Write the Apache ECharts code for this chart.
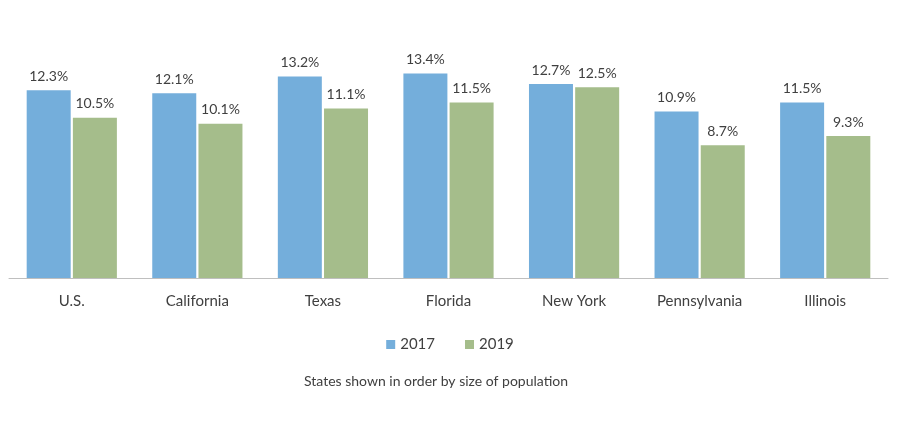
<!DOCTYPE html>
<html><head><meta charset="utf-8">
<script src="https://cdn.jsdelivr.net/npm/echarts@6/dist/echarts.min.js"></script>
<style>html,body{margin:0;padding:0;background:#fff}#c{width:900px;height:432px}</style>
</head><body><div id="c"></div>
<script>
const categories = ['U.S.', 'California', 'Texas', 'Florida', 'New York', 'Pennsylvania', 'Illinois'];
const values2017 = [12.3, 12.1, 13.2, 13.4, 12.7, 10.9, 11.5];
const values2019 = [10.5, 10.1, 11.1, 11.5, 12.5, 8.7, 9.3];
const seriesNames = ['2017', '2019'];
const note = 'States shown in order by size of population';

const FONT = 'Lato, "Open Sans", sans-serif';
const chart = echarts.init(document.getElementById('c'));
const lbl = {show: true, position: 'top', distance: 7, color: '#404040', fontSize: 14, fontFamily: FONT,
  formatter: p => p.value.toFixed(1) + '%'};
chart.setOption({
  animation: false,
  grid: {left: 9, right: 12, top: 49, bottom: 154},
  legend: {data: seriesNames, bottom: 75, left: 'center', itemWidth: 9, itemHeight: 9, itemGap: 30,
    icon: 'rect', textStyle: {color: '#404040', fontSize: 15, fontFamily: FONT}},
  graphic: [{type: 'text', left: 304, top: 374, style: {text: note, fill: '#404040', fontSize: 14, fontFamily: FONT}}],
  xAxis: {type: 'category', data: categories,
    axisLine: {lineStyle: {color: '#BFBFBF'}},
    axisTick: {inside: true, length: 5, lineStyle: {color: '#BFBFBF'}},
    axisLabel: {color: '#404040', fontSize: 15, fontFamily: FONT, margin: 16}},
  yAxis: {type: 'value', min: 0, max: 15, show: false, splitLine: {show: false}},
  series: [
    {name: seriesNames[0], type: 'bar', data: values2017, barWidth: 44, barGap: '5%',
      itemStyle: {color: '#74AEDB'}, label: lbl},
    {name: seriesNames[1], type: 'bar', data: values2019, barWidth: 44,
      itemStyle: {color: '#A5BD8B'}, label: lbl}
  ]
});
</script></body></html>
